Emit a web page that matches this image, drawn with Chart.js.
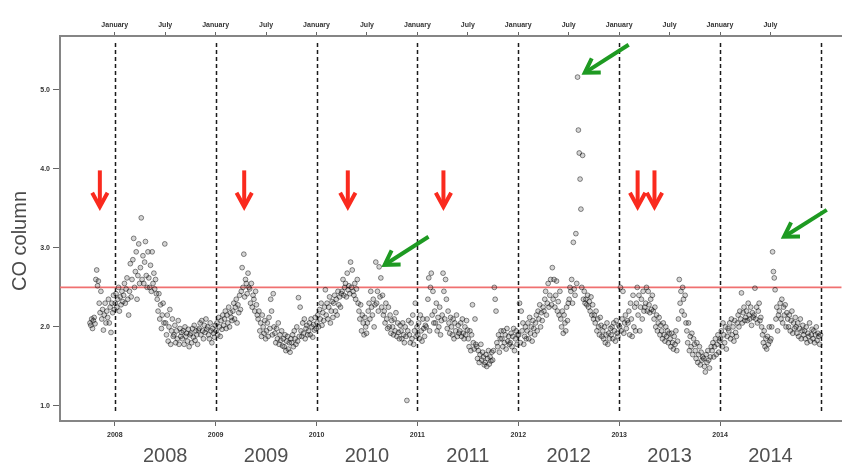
<!DOCTYPE html>
<html><head><meta charset="utf-8">
<script src="https://cdn.jsdelivr.net/npm/chart.js@4.4.1/dist/chart.umd.min.js"></script>
<style>html,body{margin:0;padding:0;background:#fff;}#wrap{width:845px;height:464px;}</style>
</head><body><div id="wrap"><canvas id="c" width="845" height="464"></canvas></div>
<script>
// ---- data: CO column, one reading every ~3 days (120 per year) ----
const co2007 = [ // Oct–Dec 2007
2.05,2.02,2.1,1.98,2.08,2.12,2.04,2.6,2.72,2.52,
2.58,2.3,2.18,2.45,2.1,2.22,1.96,2.15,2.3,2.05,
2.2,2.12,2.35,2.05,2.25,1.93,2.3,2.18,2.4,2.22];
const co2008 = [
2.3,2.42,2.25,2.35,2.5,2.2,2.38,2.28,2.45,2.32,
2.4,2.55,2.3,2.48,2.62,2.35,2.15,2.45,2.8,2.38,
2.6,2.85,3.12,2.5,2.7,2.95,2.35,2.65,3.05,2.55,
2.75,3.38,2.6,2.9,2.55,2.82,3.08,2.65,2.5,2.95,
2.62,2.5,2.78,2.45,2.95,2.55,2.68,2.48,2.6,2.42,
2.35,2.2,2.42,2.1,2.28,1.98,2.15,2.3,2.05,3.05,
2.05,1.9,2.15,1.82,2.0,2.22,1.78,1.95,2.1,1.88,
1.9,2.02,1.8,1.95,1.85,2.08,1.78,1.98,1.88,1.93,
1.85,1.95,1.78,2.0,1.88,1.92,1.82,1.97,1.75,1.9,
1.92,1.8,1.98,1.87,2.02,1.83,1.95,1.9,1.78,1.96,
1.98,2.05,1.9,2.08,1.95,1.85,2.02,1.93,2.1,1.97,
2.0,1.9,1.85,2.05,1.95,1.8,1.98,1.92,1.87,2.02];
const co2009 = [
1.95,2.05,1.9,2.12,2.0,1.88,2.08,1.97,2.15,2.02,
2.1,2.2,1.98,2.15,2.05,2.25,2.0,2.18,2.12,2.08,
2.2,2.3,2.1,2.25,2.35,2.05,2.28,2.18,2.4,2.22,
2.45,2.75,2.5,2.92,2.38,2.6,2.55,2.42,2.68,2.5,
2.48,2.3,2.55,2.25,2.4,2.35,2.2,2.45,2.28,2.15,
2.1,2.2,1.95,2.05,1.88,2.15,2.0,1.92,2.08,1.85,
1.95,2.05,1.88,2.12,1.98,2.35,2.2,1.9,2.42,2.0,
1.92,1.8,1.98,1.85,2.05,1.78,1.9,1.83,1.95,1.76,
1.85,1.75,1.9,1.7,1.82,1.88,1.72,1.8,1.68,1.85,
1.8,1.9,1.75,1.95,1.85,1.78,2.0,1.82,2.37,1.88,
2.25,1.95,1.88,2.05,1.92,2.1,1.85,1.98,2.02,1.9,
1.95,2.05,1.9,2.1,2.0,1.87,2.03,1.96,2.12,1.98];
const co2010 = [
2.05,2.15,2.0,2.22,2.1,2.3,2.02,2.18,2.08,2.25,
2.47,2.15,2.3,2.1,2.25,2.38,2.05,2.2,2.32,2.12,
2.3,2.4,2.2,2.35,2.15,2.45,2.28,2.38,2.25,2.42,
2.45,2.6,2.4,2.5,2.55,2.38,2.68,2.47,2.52,2.42,
2.82,2.5,2.72,2.45,2.4,2.55,2.35,2.48,2.6,2.3,
2.2,2.1,2.28,1.95,2.15,2.05,1.9,2.12,2.0,1.92,
2.05,2.2,2.3,2.1,2.45,2.25,2.15,2.35,2.0,2.28,
2.82,2.3,2.45,2.2,2.76,2.38,2.62,2.25,2.4,2.15,
2.2,2.05,2.3,2.1,1.98,2.25,2.0,2.15,1.92,2.08,
2.0,1.9,2.1,1.95,2.18,1.88,2.05,1.93,1.85,2.02,
1.95,1.85,2.05,1.9,1.8,2.0,1.88,1.07,1.95,2.08,
1.9,1.8,2.05,1.85,2.15,1.78,1.95,2.3,1.88,2.0];
const co2011 = [
1.9,2.05,1.85,2.15,1.95,1.82,2.1,1.98,1.88,2.02,
2.0,2.1,2.35,2.62,1.95,2.5,2.68,2.15,2.45,2.05,
2.2,2.05,2.3,1.95,2.12,2.0,2.25,1.9,2.08,2.15,
2.68,2.45,2.1,2.6,2.35,1.98,2.2,2.05,1.92,2.12,
2.0,1.9,2.1,1.85,2.05,1.95,2.15,1.88,2.02,1.92,
1.95,2.05,1.88,2.1,1.92,1.85,2.0,1.9,2.08,1.96,
1.85,1.75,1.95,1.7,1.9,2.28,1.8,1.72,2.1,1.78,
1.75,1.6,1.7,1.55,1.65,1.78,1.58,1.68,1.62,1.52,
1.55,1.65,1.5,1.6,1.7,1.53,1.62,1.57,1.68,1.58,
1.7,2.5,2.35,2.2,1.8,1.75,1.9,1.68,1.85,1.95,
1.85,1.75,1.95,1.8,1.9,1.72,1.98,1.82,1.88,1.78,
1.8,1.92,1.75,1.88,1.98,1.7,1.85,1.95,1.78,1.9];
const co2012 = [
1.9,2.3,1.8,2.2,1.95,2.05,1.78,1.88,2.0,1.85,
1.95,2.05,1.85,2.12,1.92,2.0,1.82,2.08,1.98,1.9,
2.05,2.15,1.95,2.2,2.1,2.28,2.0,2.18,2.08,2.25,
2.2,2.35,2.45,2.15,2.3,2.55,2.25,2.4,2.6,2.28,
2.75,2.35,2.6,2.25,2.4,2.58,2.2,2.32,2.15,2.45,
2.1,2.0,2.2,1.92,2.15,2.05,1.95,2.25,2.08,2.3,
2.35,2.5,2.45,2.6,2.3,3.07,2.48,2.4,3.18,2.55,
5.16,4.49,4.2,3.87,3.49,2.5,4.17,2.35,2.45,2.3,
2.35,2.28,2.4,2.25,2.32,2.2,2.38,2.15,2.28,2.1,
2.15,2.05,2.2,1.95,2.1,2.0,1.9,2.12,2.02,1.88,
1.95,1.85,2.0,1.8,1.9,2.05,1.78,1.92,1.85,1.98,
1.9,2.0,1.85,2.05,1.95,1.82,2.08,1.92,1.88,2.02];
const co2013 = [
2.0,2.5,1.95,2.1,2.45,1.92,2.05,2.15,1.98,2.08,
2.05,2.2,1.9,2.3,2.1,1.88,2.4,2.0,2.25,1.95,
2.3,2.5,2.15,2.4,1.95,2.25,2.35,2.1,2.45,2.2,
2.25,2.3,2.5,2.2,2.45,2.28,2.18,2.35,2.22,2.4,
2.2,2.1,2.25,2.0,2.15,1.95,2.05,2.12,1.9,2.02,
1.95,1.85,2.05,1.9,1.82,2.0,1.88,1.95,1.8,1.92,
1.85,1.75,1.92,1.8,1.72,1.88,1.78,1.95,1.7,1.82,
2.1,2.6,2.3,2.45,2.2,2.5,2.35,2.15,2.4,2.05,
1.95,1.8,2.05,1.7,1.88,1.75,1.92,1.65,1.85,1.78,
1.7,1.6,1.8,1.55,1.65,1.75,1.52,1.68,1.58,1.62,
1.6,1.5,1.43,1.65,1.55,1.7,1.58,1.48,1.62,1.75,
1.7,1.8,1.62,1.75,1.85,1.65,1.78,1.9,1.68,1.82];
const co2014 = [
1.85,1.95,1.75,2.05,1.9,1.8,2.0,1.72,1.88,1.98,
1.95,2.05,1.85,2.1,1.9,2.0,1.82,2.08,1.93,1.88,
2.05,2.15,2.0,2.2,2.1,2.43,2.05,2.18,2.25,2.08,
2.12,2.2,2.08,2.3,2.15,2.1,2.25,2.02,2.18,2.12,
2.15,2.49,2.1,2.25,2.05,2.2,2.3,2.08,2.12,2.0,
1.9,1.8,1.95,1.75,1.85,1.72,1.88,1.78,2.0,1.82,
1.85,2.0,2.95,2.7,2.62,2.47,2.1,2.25,1.95,2.15,
2.2,2.3,2.1,2.35,2.05,2.25,2.15,2.28,2.0,2.18,
2.1,2.0,2.15,1.95,2.08,2.2,1.92,2.05,1.98,2.12,
2.0,1.92,2.05,1.88,1.98,2.1,1.85,1.95,2.02,1.9,
1.95,1.85,2.0,1.8,1.92,1.88,2.05,1.82,1.9,1.97,
1.85,1.95,1.8,1.9,2.0,1.83,1.92,1.88,1.78,1.9];

const seriesValues = [co2007, co2008, co2009, co2010, co2011, co2012, co2013, co2014];
const seriesStart  = [2007.75, 2008, 2009, 2010, 2011, 2012, 2013, 2014]; // decimal year of first sample
const samplesPerYear = 120;

const yTickValues = [1, 2, 3, 4, 5];
const yearTicks = [2008, 2009, 2010, 2011, 2012, 2013, 2014];
const monthTicks = [2008, 2008.5, 2009, 2009.5, 2010, 2010.5, 2011, 2011.5, 2012, 2012.5, 2013, 2013.5, 2014, 2014.5];
const monthLabels = ['January','July','January','July','January','July','January','July','January','July','January','July','January','July'];
const bigYearPos = [2008.5, 2009.5, 2010.5, 2011.5, 2012.5, 2013.5, 2014.5];
const bigYearLabels = ['2008','2009','2010','2011','2012','2013','2014'];
const januaryLines = [2008, 2009, 2010, 2011, 2012, 2013, 2014, 2015];
const threshold = 2.5;
const xRange = [2007.457, 2015.206];
const yRange = [0.81, 5.68];
const dashRange = [0.9, 5.59];
// annotation arrows, in data coordinates
const redArrowX = [2007.852, 2009.283, 2010.31, 2011.258, 2013.183, 2013.35];
const redArrowY = [3.98, 3.52]; // tail, tip
const greenArrows = [ // [tailX, tailY, tipX, tipY]
  [2013.094, 5.57, 2012.659, 5.215],
  [2011.11, 3.14, 2010.675, 2.785],
  [2015.058, 3.48, 2014.634, 3.14]
];

const points = [];
seriesValues.forEach((vals, s) => vals.forEach((v, i) => points.push({x: seriesStart[s] + (i + 0.5) / samplesPerYear, y: v})));

const FONT = "'Liberation Sans', Arial, sans-serif";
const smallFont = {family: FONT, size: 7, weight: 'bold'};

function drawArrow(ctx, x0, y0, x1, y1, color, lw, head, ang) {
  const a = Math.atan2(y1 - y0, x1 - x0);
  ctx.save();
  ctx.strokeStyle = color; ctx.lineWidth = lw; ctx.lineCap = 'butt'; ctx.lineJoin = 'miter';
  ctx.beginPath(); ctx.moveTo(x0, y0); ctx.lineTo(x1 - Math.cos(a) * 3, y1 - Math.sin(a) * 3); ctx.stroke();
  ctx.beginPath();
  ctx.moveTo(x1 - head * Math.cos(a - ang), y1 - head * Math.sin(a - ang));
  ctx.lineTo(x1, y1);
  ctx.lineTo(x1 - head * Math.cos(a + ang), y1 - head * Math.sin(a + ang));
  ctx.stroke();
  ctx.restore();
}

const annot = {
  id: 'annot',
  beforeDatasetsDraw(chart) {
    const {ctx, scales: {x, y}} = chart;
    ctx.save();
    ctx.setLineDash([4, 3]); ctx.lineWidth = 1.5; ctx.strokeStyle = '#1a1a1a';
    januaryLines.forEach(t => {
      const px = Math.round(x.getPixelForValue(t)) + 0.5;
      ctx.beginPath(); ctx.moveTo(px, y.getPixelForValue(dashRange[1])); ctx.lineTo(px, y.getPixelForValue(dashRange[0])); ctx.stroke();
    });
    ctx.restore();
  },
  afterDatasetsDraw(chart) {
    const {ctx, scales: {x, y}} = chart;
    redArrowX.forEach(t => {
      const px = x.getPixelForValue(t);
      drawArrow(ctx, px, y.getPixelForValue(redArrowY[0]), px, y.getPixelForValue(redArrowY[1]), '#fa2a1e', 4, 16, 0.5);
    });
    greenArrows.forEach(g => {
      drawArrow(ctx, x.getPixelForValue(g[0]), y.getPixelForValue(g[1]), x.getPixelForValue(g[2]), y.getPixelForValue(g[3]), '#1e9a22', 4, 16, 0.55);
    });
  },
  afterDraw(chart) {
    const {ctx} = chart;
    ctx.save();
    ctx.translate(20, 241); ctx.rotate(-Math.PI / 2);
    ctx.font = "20px " + FONT; ctx.fillStyle = '#4a4a4a';
    ctx.textAlign = 'center'; ctx.textBaseline = 'middle';
    ctx.fillText('CO column', 0, 0);
    ctx.restore();
  }
};

new Chart(document.getElementById('c').getContext('2d'), {
  type: 'scatter',
  data: {
    datasets: [
      {data: points, pointRadius: 2.4, pointBorderWidth: 0.9, borderColor: 'rgba(0,0,0,0.5)', backgroundColor: 'rgba(40,40,40,0.2)', pointHoverRadius: 2.4},
      {type: 'line', data: [{x: xRange[0], y: threshold}, {x: xRange[1], y: threshold}], borderColor: '#f07070', borderWidth: 1.6, pointRadius: 0, fill: false}
    ]
  },
  options: {
    responsive: false, animation: false, events: [],
    layout: {padding: 0},
    plugins: {legend: {display: false}, tooltip: {enabled: false}},
    scales: {
      x: {
        type: 'linear', position: 'bottom', weight: 0, min: xRange[0], max: xRange[1],
        afterBuildTicks: s => { s.ticks = yearTicks.map(v => ({value: v})); },
        afterFit: s => { s.height = 20; },
        ticks: {callback: v => String(v), font: smallFont, color: '#333', padding: 5, maxRotation: 0, autoSkip: false},
        grid: {display: true, drawOnChartArea: false, drawTicks: true, tickLength: 5, color: '#666', lineWidth: 1},
        border: {display: true, color: '#858585', width: 2}
      },
      xBig: {
        type: 'linear', position: 'bottom', weight: 1, min: xRange[0], max: xRange[1],
        afterBuildTicks: s => { s.ticks = bigYearPos.map(v => ({value: v})); },
        afterFit: s => { s.height = 23; },
        ticks: {callback: (v, i) => bigYearLabels[i], font: {family: FONT, size: 20}, color: '#505050', padding: -5, maxRotation: 0, autoSkip: false},
        grid: {display: false}, border: {display: false}
      },
      xTop: {
        type: 'linear', position: 'top', min: xRange[0], max: xRange[1],
        afterBuildTicks: s => { s.ticks = monthTicks.map(v => ({value: v})); },
        afterFit: s => { s.height = 36; },
        ticks: {callback: (v, i) => monthLabels[i], font: smallFont, color: '#333', padding: 3, maxRotation: 0, autoSkip: false},
        grid: {display: true, drawOnChartArea: false, drawTicks: true, tickLength: 4, color: '#666', lineWidth: 1},
        border: {display: true, color: '#858585', width: 2}
      },
      y: {
        type: 'linear', position: 'left', min: yRange[0], max: yRange[1],
        afterBuildTicks: s => { s.ticks = yTickValues.map(v => ({value: v})); },
        afterFit: s => { s.width = 60; },
        ticks: {callback: v => v.toFixed(1), font: smallFont, color: '#333', padding: 3},
        grid: {display: true, drawOnChartArea: false, drawTicks: true, tickLength: 7, color: '#666', lineWidth: 1},
        border: {display: true, color: '#858585', width: 2}
      }
    }
  },
  plugins: [annot]
});
</script>
</body></html>
